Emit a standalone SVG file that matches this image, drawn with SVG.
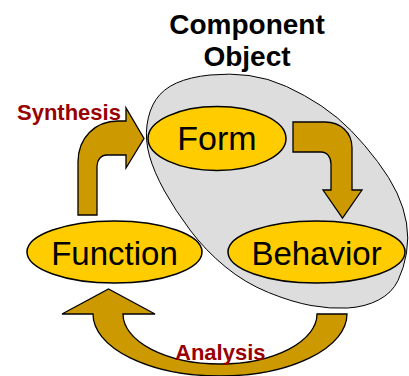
<svg xmlns="http://www.w3.org/2000/svg" width="409" height="376" viewBox="0 0 409 376">
<style>
.node ellipse{fill:#FFCC00;stroke:#000;stroke-width:1.5}
.node text{font-family:"Liberation Sans",Arial,sans-serif;font-size:33px;fill:#000;text-anchor:middle}
.arrow{fill:#CC9900;stroke:#000;stroke-width:1.3;stroke-linejoin:miter}
.title{font-family:"Liberation Sans",Arial,sans-serif;font-size:28px;font-weight:bold;fill:#000;text-anchor:middle}
.label{font-family:"Liberation Sans",Arial,sans-serif;font-size:22px;font-weight:bold;fill:#990000}
</style>
<g id="component-object">
<path d="M147,125 Q149,110 156,99.5 Q163,89 176.5,83 Q190,77 210,75 Q230,73 249,75.5 Q268,78 286.5,86.5 Q305,95 321.5,106 Q338,117 351.5,131 Q365,145 377.5,161.5 Q390,178 397,193 Q404,208 406.5,223 Q409,238 406.5,253 Q404,268 398,280.5 Q392,293 378.5,300 Q365,307 347.5,308 Q330,309 311,305.5 Q292,302 268.5,292.5 Q245,283 225,266.5 Q205,250 190,230 Q175,210 164.5,191 Q154,172 149.5,156 Q145,140 147,125 Z" fill="#DDDDDD" stroke="#000" stroke-width="1"/>
<text class="title" x="247" y="34">Component</text>
<text class="title" x="247" y="66">Object</text>
</g>
<g id="connectors">
<path id="synthesis-arrow" class="arrow" d="M78,215 L78,162 C78,138 95,121 118,121 L126,121 L126,108 L144,138.5 L126,168 L126,155 L107,155 C101,155 97,160 97,166 L97,215 Z"/>
<path id="form-behavior-arrow" class="arrow" d="M293,122 L325,122 C340,122 352,132 352,148 L352,190 L362,190 L342.5,218 L323,190 L331,190 L331,164 C331,157 327,152 321,152 L293,152 Z"/>
<path id="analysis-arrow" class="arrow" d="M347,314 A127,62 0 0 1 93,314 L62,314 L108.5,289 L155,314 L123,314 A97,50 0 0 0 317,314 Z"/>
<text class="label" x="17" y="120">Synthesis</text>
<text class="label" x="175" y="360">Analysis</text>
</g>
<g id="form" class="node">
<ellipse cx="217" cy="138.5" rx="69" ry="32"/>
<text x="217" y="150" style="font-size:34px">Form</text>
</g>
<g id="function" class="node">
<ellipse cx="114.5" cy="252" rx="87.5" ry="31"/>
<text x="114.5" y="265">Function</text>
</g>
<g id="behavior" class="node">
<ellipse cx="316.5" cy="252" rx="88.5" ry="31"/>
<text x="316.5" y="265">Behavior</text>
</g>
</svg>
